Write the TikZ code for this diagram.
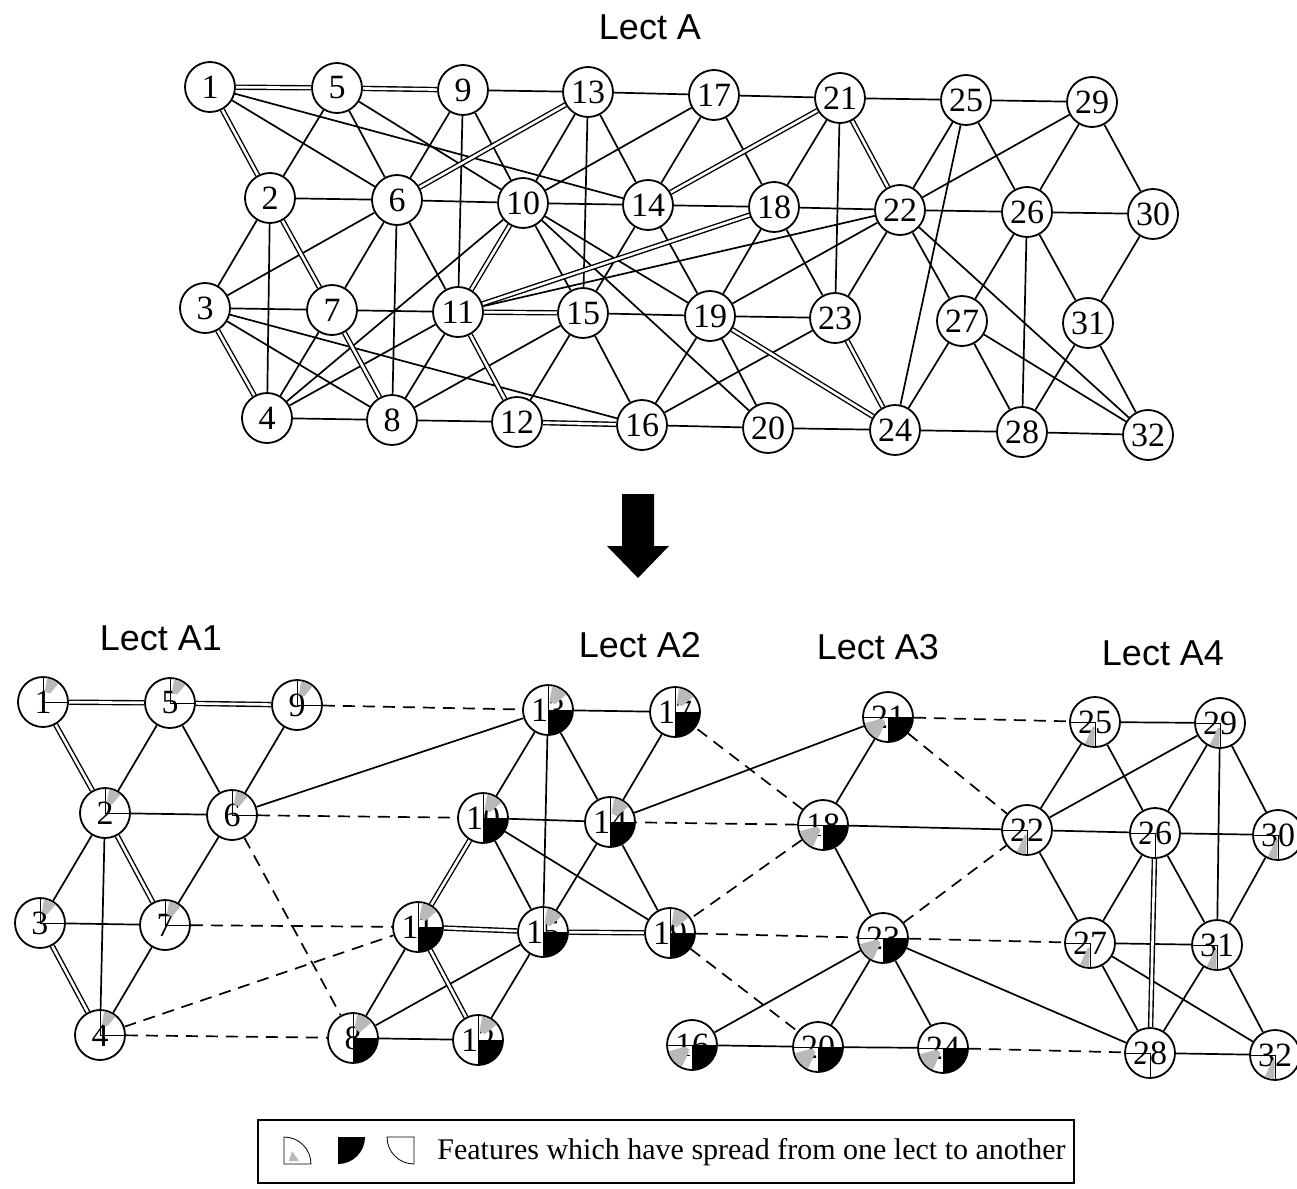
\documentclass[tikz,border=0pt]{standalone}
\usepackage{fontspec}
\setmainfont{Liberation Serif}
\newfontfamily\lectfont{Liberation Sans}
\usetikzlibrary{arrows, automata, backgrounds}

% feature marks drawn over the lower nodes
\newcommand{\markone}[1]{%
  \begin{scope}[shift={(#1.center)}, x=0.5pt, y=0.5pt]
    \fill[gray!55] (50:11) -- (50:24) arc (50:80:24) -- (80:11) -- cycle;
    \draw (0,24.5) -- (0,0) -- (24.5,0);
  \end{scope}}
\newcommand{\marktwo}[1]{%
  \begin{scope}[shift={(#1.center)}, x=0.5pt, y=0.5pt]
    \fill (0,0) -- (24.5,0) arc (0:-90:24.5) -- cycle;
    \fill[gray!55] (40:9) -- (40:24) arc (40:80:24) -- (80:9) -- cycle;
    \draw (0,24.5) -- (0,-24.5) (0,0) -- (24.5,0);
  \end{scope}}
\newcommand{\markthree}[1]{%
  \begin{scope}[shift={(#1.center)}, x=0.5pt, y=0.5pt]
    \fill (0,0) -- (24.5,0) arc (0:-90:24.5) -- cycle;
    \fill[gray!55] (195:6) -- (195:24) arc (195:245:24) -- (245:6) -- cycle;
    \draw (-24.5,0) -- (24.5,0);
  \end{scope}}
\newcommand{\markfour}[2][gray!55]{%
  \begin{scope}[shift={(#2.center)}, x=0.5pt, y=0.5pt]
    \fill[#1] (245:5) -- (245:24) arc (245:268:24) -- (268:5) -- cycle;
    \draw (-24.5,0) -- (0,0) -- (0,-24.5);
  \end{scope}}

\begin{document}
\begin{tikzpicture}[
            x = 0.5pt, y = -0.5pt, % one unit = one pixel of the scan
            line width = 0.8pt % line style
        ]

        \tikzstyle{every state}=[
            draw = black,
            line width = 0.9pt,
            fill = white,
            inner sep = 0pt,
            minimum size = 25pt,
            font = \fontsize{17}{17}\selectfont
        ]
        \tikzstyle{links}=[line width = 0.85pt]
        \tikzstyle{dbl}=[every edge/.append style = {double, double distance = 1.3pt, line width = 0.7pt}]
        \tikzstyle{spread}=[dash pattern = on 6pt off 4pt]
        \tikzstyle{lect}=[font = \lectfont\fontsize{18}{18}\selectfont]

    \useasboundingbox (0,0) rectangle (1297,1189);

    % Lect A
    \node[lect] (titleA) at (650,27) {Lect A};
    \foreach \n/\x/\y in {1/210/87, 5/337/88, 9/463/90, 13/588/92, 17/714/95,
        21/840/98, 25/966/100, 29/1092/102, 2/270/198, 6/397/200, 10/523/203,
        14/648/205, 18/774/207, 22/900/210, 26/1027/212, 30/1153/214,
        3/205/308, 7/332/310, 11/458/312, 15/583/313, 19/710/316, 23/835/318,
        27/962/321, 31/1088/323, 4/267/418, 8/392/420, 12/517/422, 16/642/425,
        20/768/428, 24/895/430, 28/1022/432, 32/1148/435}
        \node[state] (t\n) at (\x,\y) {\n};

    \begin{pgfonlayer}{background}
    \begin{scope}[links]
	\path (t1) edge (t6) edge (t14);
	\path (t2) edge (t5) edge (t6) edge (t3) edge (t4);
	\path (t3) edge (t6) edge (t7) edge (t8) edge (t16);
	\path (t4) edge (t7) edge (t8) edge (t10) edge (t11);
	\path (t5) edge (t6) edge (t10);
	\path (t6) edge (t9) edge (t10) edge (t7) edge (t8) edge (t11);
	\path (t7) edge (t11);
	\path (t8) edge (t11) edge (t12) edge (t15);
	\path (t9) edge (t13) edge (t11) edge (t10);
	\path (t10) edge (t13) edge (t17) edge (t14) edge (t15) edge (t19) edge (t20);
	\path (t11) edge (t22);
	\path (t12) edge (t15);
	\path (t13) edge (t17) edge (t14) edge (t15);
	\path (t14) edge (t17) edge (t18) edge (t15) edge (t19);
	\path (t15) edge (t19) edge (t16);
	\path (t16) edge (t19) edge (t23) edge (t20);
	\path (t17) edge (t21) edge (t18);
	\path (t18) edge (t21) edge (t22) edge (t19) edge (t23);
	\path (t19) edge (t22) edge (t23) edge (t20);
	\path (t20) edge (t24);
	\path (t21) edge (t25) edge (t23);
	\path (t22) edge (t25) edge (t29) edge (t26) edge (t23) edge (t27) edge (t32);
	\path (t24) edge (t25) edge (t27) edge (t28);
	\path (t25) edge (t29) edge (t26);
	\path (t26) edge (t29) edge (t30) edge (t27) edge (t31) edge (t28);
	\path (t27) edge (t28) edge (t32);
	\path (t28) edge (t31) edge (t32);
	\path (t29) edge (t30);
	\path (t30) edge (t31);
	\path (t31) edge (t32);
	\path[dbl] (t1) edge (t5) edge (t2);
	\path[dbl] (t5) edge (t9);
	\path[dbl] (t2) edge (t7);
	\path[dbl] (t3) edge (t4);
	\path[dbl] (t7) edge (t8);
	\path[dbl] (t6) edge (t13);
	\path[dbl] (t10) edge (t11);
	\path[dbl] (t11) edge (t15) edge (t12) edge (t18);
	\path[dbl] (t12) edge (t16);
	\path[dbl] (t14) edge (t21);
	\path[dbl] (t21) edge (t22);
	\path[dbl] (t19) edge (t24);
	\path[dbl] (t23) edge (t24);
    \end{scope}
    \end{pgfonlayer}

    % arrow between the two parts
    \fill (622,494) -- (654,494) -- (654,546) -- (669,546) -- (638,578)
        -- (607,546) -- (622,546) -- cycle;

    % Lects A1 to A4
    \node[lect] (titleA1) at (161,638) {Lect A1};
    \node[lect] (titleA2) at (640,645) {Lect A2};
    \node[lect] (titleA3) at (878,647) {Lect A3};
    \node[lect] (titleA4) at (1163,653) {Lect A4};
    \foreach \n/\x/\y in {1/43/702, 5/170/703, 9/297/705, 2/105/813, 6/232/815,
        3/40/923, 7/165/925, 4/100/1035, 13/548/710, 17/675/712, 10/483/818,
        14/610/822, 11/418/927, 15/543/932, 19/670/933, 8/353/1038, 12/478/1040,
        21/888/717, 18/823/825, 23/883/938, 16/692/1045, 20/818/1047, 24/943/1048,
        25/1095/722, 29/1220/723, 22/1027/830, 26/1155/833, 30/1278/835,
        27/1090/943, 31/1217/945, 28/1150/1053, 32/1275/1055}
        \node[state] (b\n) at (\x,\y) {\n};

    \begin{pgfonlayer}{background}
    \begin{scope}[links]
	\path (b5) edge (b2) edge (b6);
	\path (b9) edge (b6);
	\path (b2) edge (b6) edge (b3) edge (b4);
	\path (b6) edge (b7) edge (b13);
	\path (b3) edge (b7);
	\path (b7) edge (b4);
	\path (b8) edge (b12) edge (b11) edge (b15);
	\path (b12) edge (b15);
	\path (b10) edge (b13) edge (b14) edge (b15) edge (b19);
	\path (b13) edge (b17) edge (b14) edge (b15);
	\path (b14) edge (b17) edge (b15) edge (b19) edge (b21);
	\path (b21) edge (b18);
	\path (b18) edge (b22) edge (b23);
	\path (b23) edge (b16) edge (b20) edge (b24) edge (b28);
	\path (b16) edge (b20);
	\path (b20) edge (b24);
	\path (b25) edge (b29) edge (b22) edge (b26);
	\path (b29) edge (b22) edge (b26) edge (b30) edge (b31);
	\path (b22) edge (b26) edge (b27);
	\path (b26) edge (b30) edge (b27) edge (b31);
	\path (b30) edge (b31);
	\path (b27) edge (b31) edge (b28) edge (b32);
	\path (b31) edge (b28) edge (b32);
	\path (b28) edge (b32);
	\path[dbl] (b1) edge (b5) edge (b2);
	\path[dbl] (b5) edge (b9);
	\path[dbl] (b2) edge (b7);
	\path[dbl] (b3) edge (b4);
	\path[dbl] (b11) edge (b12) edge (b15) edge (b10);
	\path[dbl] (b15) edge (b19);
	\path[dbl] (b26) edge (b28);
	\path[spread] (b9) edge (b13);
	\path[spread] (b6) edge (b10) edge (b8);
	\path[spread] (b7) edge (b11);
	\path[spread] (b4) edge (b11) edge (b8);
	\path[spread] (b18) edge (b17) edge (b14) edge (b19);
	\path[spread] (b19) edge (b23) edge (b20);
	\path[spread] (b21) edge (b25) edge (b22);
	\path[spread] (b23) edge (b22) edge (b27);
	\path[spread] (b24) edge (b28);
    \end{scope}
    \end{pgfonlayer}

    \foreach \n in {1,5,9,2,6,3,7,4} \markone{b\n};
    \foreach \n in {13,17,10,14,11,15,19,8,12} \marktwo{b\n};
    \foreach \n in {21,18,23,16,20,24} \markthree{b\n};
    \foreach \n in {25,29,22,30,27,31,32} \markfour{b\n};
    \foreach \n in {26,28} \markfour[white]{b\n};

    % legend
    \draw[line width = 0.9pt] (258,1120) rectangle (1074,1183);
    \begin{scope}[shift={(284,1164)}, x=0.5pt, y=0.5pt]
        \draw (0,0) -- (0,27) arc (90:0:27) -- cycle;
        \fill[gray!55] (5,3) -- (15,3) -- (8,13) -- cycle;
    \end{scope}
    \begin{scope}[shift={(338,1137)}, x=0.5pt, y=0.5pt]
        \fill (0,0) -- (27,0) arc (0:-90:27) -- cycle;
    \end{scope}
    \begin{scope}[shift={(414,1137)}, x=0.5pt, y=0.5pt]
        \draw (0,0) -- (-27,0) arc (180:270:27) -- cycle;
    \end{scope}
    \node[anchor=west, inner sep=0pt, font=\fontsize{15}{15}\selectfont] (legend)
        at (437,1152) {Features which have spread from one lect to another};

\end{tikzpicture}
\end{document}
